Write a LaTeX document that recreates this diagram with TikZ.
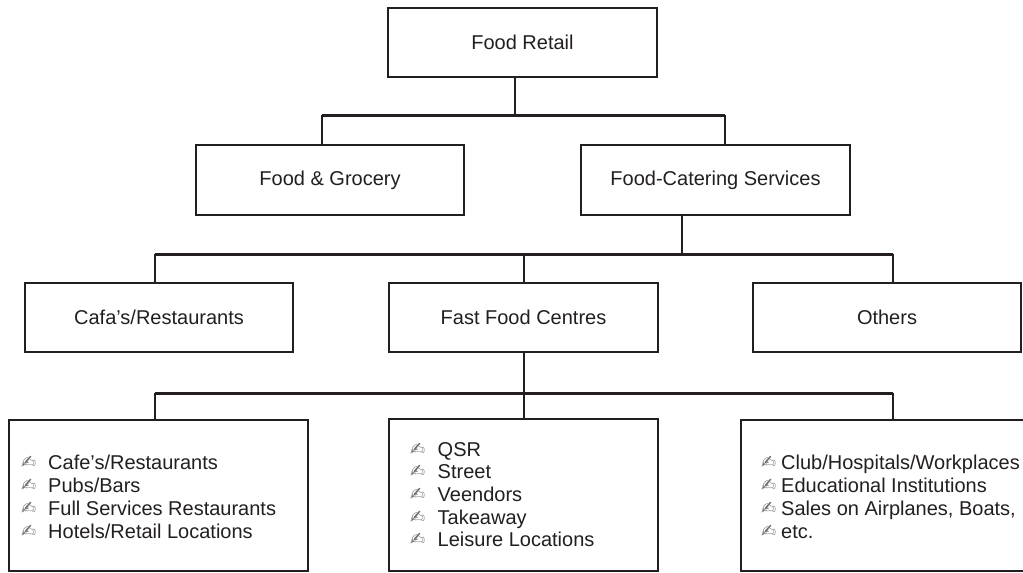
\documentclass[tikz,border=0pt]{standalone}
\usepackage{fontspec}
\setmainfont{Liberation Sans}
\newfontfamily\dingfont{DejaVu Sans}
\definecolor{ink}{HTML}{231F20}
\definecolor{bulgray}{HTML}{6D6D6D}
\begin{document}
\begin{tikzpicture}[x=1pt,y=-1pt,
  box/.style={draw=ink, line width=2.6pt, inner sep=0pt, text=ink, font=\fontsize{20}{23}\selectfont},
  bus/.style={draw=ink, line width=3pt},
  conn/.style={draw=ink, line width=2.4pt},
  item/.style={anchor=base west, inner sep=0pt, text=ink, font=\fontsize{20}{23}\selectfont},
  bul/.style={anchor=base west, inner sep=0pt, text=bulgray, font=\dingfont\fontsize{18}{20}\selectfont}]
\useasboundingbox (0,0) rectangle (1023,573);
\fill[white] (0,0) rectangle (1023,573);

% level boxes
\node[box, minimum width=269pt, minimum height=69pt] (FR) at (522.5,42.5) {Food Retail};
\node[box, minimum width=268pt, minimum height=70pt] (FG) at (330,180) {Food \& Grocery};
\node[box, minimum width=269pt, minimum height=70pt] (FC) at (715.5,180) {Food-Catering Services};
\node[box, minimum width=268pt, minimum height=69pt] (CR) at (159,317.5) {Cafa’s/Restaurants};
\node[box, minimum width=269pt, minimum height=69pt] (FF) at (523.5,317.5) {Fast Food Centres};
\node[box, minimum width=268pt, minimum height=69pt] (OT) at (887,317.5) {Others};
\node[box, minimum width=299pt, minimum height=151pt] (B1) at (158.5,495.5) {};
\node[box, minimum width=269pt, minimum height=152pt] (B2) at (523.5,495) {};
\node[box, minimum width=289pt, minimum height=151pt] (B3) at (885.5,495.5) {};

% junction coordinates
\coordinate (j1) at (515,115);
\coordinate (g1) at (322,115);
\coordinate (c1) at (725,115);
\coordinate (j2) at (682,254);
\coordinate (l2) at (155,254);
\coordinate (m2) at (524,254);
\coordinate (r2) at (893,254);
\coordinate (l3) at (155,393);
\coordinate (m3) at (524,393);
\coordinate (r3) at (893,393);

% connectors
\draw[conn] (FR.south -| j1) -- (j1);
\draw[bus] (g1) -- (c1);
\draw[conn] (g1) -- (g1 |- FG.north);
\draw[conn] (c1) -- (c1 |- FC.north);
\draw[conn] (FC.south -| j2) -- (j2);
\draw[bus] (l2) -- (r2);
\draw[conn] (l2) -- (l2 |- CR.north);
\draw[conn] (m2) -- (m2 |- FF.north);
\draw[conn] (r2) -- (r2 |- OT.north);
\draw[conn] (FF.south -| m3) -- (m3);
\draw[bus] (l3) -- (r3);
\draw[conn] (l3) -- (l3 |- B1.north);
\draw[conn] (m3) -- (m3 |- B2.north);
\draw[conn] (r3) -- (r3 |- B3.north);

% lists
\foreach \t [count=\i] in {Cafe’s/Restaurants, Pubs/Bars, Full Services Restaurants, Hotels/Retail Locations} {
  \node[bul] (b1d\i) at (21,{468+23*(\i-1)}) {✍};
  \node[item] (b1t\i) at (48,{469+23*(\i-1)}) {\t};
}
\foreach \t [count=\i] in {QSR, Street, Veendors, Takeaway, Leisure Locations} {
  \node[bul] (b2d\i) at (410,{455+22.7*(\i-1)}) {✍};
  \node[item] (b2t\i) at (437.5,{456+22.7*(\i-1)}) {\t};
}
\foreach \t [count=\i] in {Club/Hospitals/Workplaces, Educational Institutions, {Sales on Airplanes, Boats,}, etc.} {
  \node[bul] (b3d\i) at (761,{468+23*(\i-1)}) {✍};
  \node[item] (b3t\i) at (781,{469+23*(\i-1)}) {\t};
}
\end{tikzpicture}
\end{document}
